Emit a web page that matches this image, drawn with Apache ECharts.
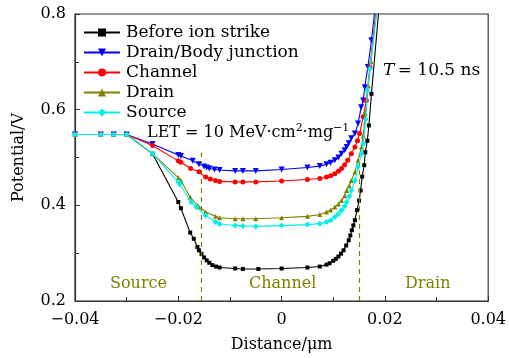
<!DOCTYPE html>
<html><head><meta charset="utf-8">
<script src="https://cdn.jsdelivr.net/npm/echarts@6/dist/echarts.min.js"></script>
<style>html,body{margin:0;padding:0;background:#fff}#c{width:509px;height:358px}</style>
</head><body><div id="c"></div>
<script>
const seriesNames = ['Before ion strike','Drain/Body junction','Channel','Drain','Source'];
const seriesColors = ['#000000','#0000ff','#ff0000','#808000','#00f0f0'];
const xTicks = [-0.04,-0.02,0,0.02,0.04];
const yTicks = [0.2,0.4,0.6,0.8];
const boundaryX = [-0.0155, 0.015];

const beforeStrike = [[-0.04,0.548],[-0.035,0.548],[-0.0325,0.548],[-0.03,0.548],[-0.025,0.508],[-0.02,0.407],[-0.0195,0.394],[-0.0177,0.343],[-0.017,0.330],[-0.0163,0.313],[-0.016,0.306],[-0.0155,0.298],[-0.015,0.291],[-0.0145,0.285],[-0.014,0.280],[-0.0134,0.275],[-0.0127,0.272],[-0.012,0.270],[-0.009,0.268],[-0.0075,0.267],[-0.0045,0.267],[0,0.268],[0.005,0.270],[0.0074,0.272],[0.0087,0.276],[0.0093,0.279],[0.01,0.284],[0.0105,0.288],[0.011,0.293],[0.0115,0.299],[0.012,0.306],[0.0125,0.316],[0.013,0.327],[0.0133,0.337],[0.0136,0.348],[0.0139,0.358],[0.0142,0.369],[0.0146,0.390],[0.015,0.410],[0.0153,0.431],[0.0156,0.460],[0.016,0.484],[0.0162,0.511],[0.0166,0.535],[0.0169,0.567],[0.0174,0.633],[0.0194,0.88]];
const drainBody = [[-0.04,0.548],[-0.035,0.548],[-0.0325,0.548],[-0.03,0.548],[-0.025,0.528],[-0.02,0.505],[-0.0195,0.503],[-0.0172,0.493],[-0.016,0.486],[-0.015,0.481],[-0.0145,0.479],[-0.014,0.477],[-0.013,0.475],[-0.012,0.474],[-0.009,0.472],[-0.0075,0.472],[-0.005,0.472],[0,0.475],[0.005,0.479],[0.0074,0.482],[0.0087,0.486],[0.0095,0.489],[0.0103,0.494],[0.011,0.500],[0.0116,0.508],[0.0122,0.515],[0.0126,0.522],[0.013,0.530],[0.0135,0.540],[0.0142,0.550],[0.0148,0.571],[0.0154,0.605],[0.0158,0.619],[0.0161,0.647],[0.0167,0.689],[0.0174,0.745],[0.0188,0.88]];
const channel = [[-0.04,0.548],[-0.035,0.548],[-0.0325,0.548],[-0.03,0.548],[-0.025,0.525],[-0.02,0.493],[-0.0195,0.490],[-0.0176,0.477],[-0.016,0.470],[-0.0147,0.459],[-0.0138,0.455],[-0.0128,0.452],[-0.012,0.450],[-0.009,0.449],[-0.0075,0.449],[-0.005,0.449],[0,0.451],[0.005,0.454],[0.0074,0.456],[0.0087,0.459],[0.0095,0.462],[0.0103,0.466],[0.011,0.471],[0.0116,0.477],[0.0122,0.485],[0.0128,0.494],[0.0135,0.508],[0.0142,0.522],[0.0147,0.535],[0.0151,0.550],[0.0158,0.585],[0.0164,0.619],[0.0171,0.689],[0.019,0.88]];
const drain = [[-0.04,0.548],[-0.035,0.548],[-0.0325,0.548],[-0.03,0.548],[-0.025,0.508],[-0.02,0.458],[-0.0195,0.452],[-0.0177,0.417],[-0.0163,0.400],[-0.016,0.3965],[-0.0147,0.386],[-0.0128,0.377],[-0.012,0.374],[-0.009,0.372],[-0.0075,0.372],[-0.005,0.372],[0,0.374],[0.005,0.377],[0.0074,0.381],[0.0087,0.386],[0.0095,0.390],[0.0103,0.3965],[0.011,0.403],[0.0116,0.410],[0.0122,0.420],[0.0126,0.431],[0.0131,0.441],[0.0135,0.452],[0.0142,0.4696],[0.0148,0.494],[0.0155,0.522],[0.0158,0.545],[0.0162,0.592],[0.0168,0.650],[0.0173,0.700],[0.0192,0.88]];
const source = [[-0.04,0.548],[-0.035,0.548],[-0.0325,0.548],[-0.03,0.548],[-0.025,0.508],[-0.02,0.4487],[-0.0197,0.444],[-0.0175,0.407],[-0.0165,0.3965],[-0.0147,0.379],[-0.0128,0.365],[-0.012,0.361],[-0.009,0.358],[-0.0075,0.357],[-0.005,0.356],[0,0.3576],[0.005,0.3597],[0.0074,0.3617],[0.0087,0.365],[0.0095,0.369],[0.0103,0.3756],[0.011,0.382],[0.0116,0.3896],[0.0122,0.398],[0.0126,0.407],[0.0131,0.419],[0.0135,0.431],[0.0142,0.452],[0.0148,0.480],[0.0155,0.508],[0.0158,0.529],[0.0163,0.580],[0.0166,0.640],[0.0171,0.685],[0.0192,0.88]];

const allData = [beforeStrike, drainBody, channel, drain, source];
const symbols = ['rect','triangle','circle','triangle','diamond'];
const symbolSizes = [4,6,5,5,6];
const symbolRotates = [0,180,0,0,0];

const FONT = 'DejaVu Serif';
const fmt = v => { const n = Number(v.toFixed(2)); return n < 0 ? '\u2212' + Math.abs(n) : String(n); };

const chart = echarts.init(document.getElementById('c'));
const series = allData.map((d,i) => ({
  name: seriesNames[i], type: 'line', data: d,
  symbol: symbols[i], symbolSize: symbolSizes[i], symbolRotate: symbolRotates[i],
  showAllSymbol: true, clip: true,
  lineStyle: {color: seriesColors[i], width: 1.1},
  itemStyle: {color: seriesColors[i]},
  z: 3 + i
}));
series.unshift({
  type: 'line', data: [], z: 1, silent: true,
  markLine: {
    symbol: 'none', silent: true, label: {show: false},
    lineStyle: {color: '#808000', type: [5,4], width: 1.2},
    data: boundaryX.map(x => [{coord: [x, 0.2]}, {coord: [x, 0.51]}])
  }
});

chart.setOption({
  animation: false,
  grid: {left: 75, top: 14, width: 416, height: 287, show: true, borderColor: '#333', borderWidth: 1.2, backgroundColor: 'transparent'},
  legend: {
    data: seriesNames, orient: 'vertical', left: 78, top: 19,
    itemWidth: 36, itemHeight: 10, itemGap: 3,
    textStyle: {fontFamily: FONT, fontSize: 17, lineHeight: 16, color: '#000', padding: [0,0,0,1]},
    inactiveColor: '#000'
  },
  xAxis: {
    type: 'value', min: -0.04, max: 0.04, interval: 0.02,
    name: 'Distance/\u03bcm', nameLocation: 'middle', nameGap: 36,
    nameTextStyle: {fontFamily: FONT, fontSize: 16, color: '#000'},
    axisLine: {show: true, onZero: false, lineStyle: {color: '#333', width: 1.2}},
    axisTick: {inside: true, length: 5, lineStyle: {color: '#333'}},
    minorTick: {show: true, splitNumber: 2, length: 4, lineStyle: {color: '#333'}},
    splitLine: {show: false},
    axisLabel: {formatter: fmt, fontFamily: FONT, fontSize: 16, color: '#000', margin: 11}
  },
  yAxis: {
    type: 'value', min: 0.2, max: 0.8, interval: 0.2,
    name: 'Potential/V', nameLocation: 'middle', nameGap: 48,
    nameTextStyle: {fontFamily: FONT, fontSize: 16, color: '#000'},
    axisLine: {show: true, onZero: false, lineStyle: {color: '#333', width: 1.2}},
    axisTick: {inside: true, length: 5, lineStyle: {color: '#333'}},
    minorTick: {show: true, splitNumber: 2, length: 4, lineStyle: {color: '#333'}},
    splitLine: {show: false},
    axisLabel: {formatter: fmt, fontFamily: FONT, fontSize: 16, color: '#000', margin: 9}
  },
  graphic: [
    {type: 'text', left: 147, top: 123, z: 20, style: {
      text: '{a|LET = 10 MeV\u00b7cm}{s|2}{a|\u00b7mg}{s|\u22121}',
      rich: {a: {fontFamily: FONT, fontSize: 16, fill: '#000'}, s: {fontFamily: FONT, fontSize: 11, fill: '#000', verticalAlign: 'top', padding: [0,0,8,0]}}
    }},
    {type: 'text', left: 383, top: 62, z: 20, style: {
      text: '{i|T} {a|= 10.5 ns}',
      rich: {i: {fontFamily: FONT, fontStyle: 'italic', fontSize: 17, fill: '#000'}, a: {fontFamily: FONT, fontSize: 17, fill: '#000'}}
    }},
    {type: 'text', left: 110, top: 276, z: 20, style: {text: 'Source', fontFamily: FONT, fontSize: 16, fill: '#808000'}},
    {type: 'text', left: 249, top: 276, z: 20, style: {text: 'Channel', fontFamily: FONT, fontSize: 16, fill: '#808000'}},
    {type: 'text', left: 405, top: 276, z: 20, style: {text: 'Drain', fontFamily: FONT, fontSize: 16, fill: '#808000'}}
  ],
  series: series
});
</script></body></html>
